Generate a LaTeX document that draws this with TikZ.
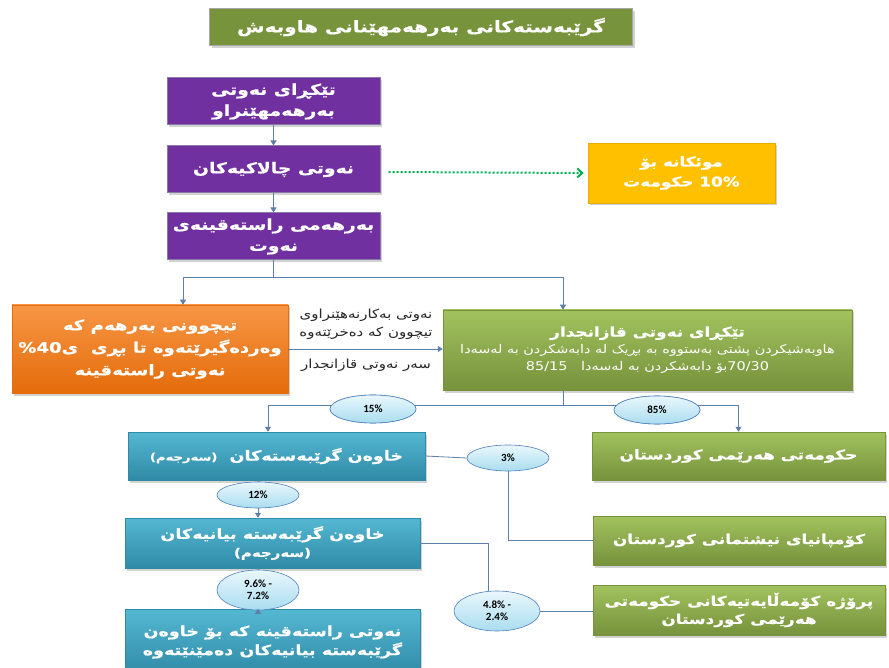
\documentclass[tikz,border=0pt]{standalone}
\usepackage{fontspec}
\usetikzlibrary{shapes.geometric,arrows.meta,shadows,calc}
\TeXXeTstate=1
\newfontfamily\arbB[Script=Arabic,FakeStretch=1.25,FakeBold=0.6]{DejaVu Sans Bold}
\newfontfamily\arbR[Script=Arabic,FakeStretch=1.2]{DejaVu Sans}
\newfontfamily\numf{Carlito}
\newcommand\rtlline[1]{\beginR #1\endR}
\newcommand\ltrrun[1]{\beginL #1\endL}
\definecolor{titleg}{HTML}{77933C}
\definecolor{purp}{HTML}{7030A0}
\definecolor{purpd}{HTML}{8A7AA8}
\definecolor{goldc}{HTML}{FFC000}
\definecolor{orT}{HTML}{F79646}
\definecolor{orB}{HTML}{E46C0A}
\definecolor{grT}{HTML}{A2C25E}
\definecolor{grB}{HTML}{76923C}
\definecolor{blT}{HTML}{55B8D3}
\definecolor{blB}{HTML}{2F8AA6}
\definecolor{elT}{HTML}{EAF7FC}
\definecolor{elB}{HTML}{A9DDF0}
\definecolor{elD}{HTML}{4F81BD}
\definecolor{cn}{HTML}{5F7FA6}
\definecolor{dotg}{HTML}{00B050}
\definecolor{lbl}{HTML}{262626}
\tikzset{
  bx/.style={rectangle, align=center, text=white, inner sep=2pt,
    font=\arbB\fontsize{13.5}{20}\selectfont,
    drop shadow={opacity=0.35, shadow xshift=2pt, shadow yshift=-2.5pt}},
  purplebox/.style={bx, fill=purp, draw=purpd, line width=1pt,
    font=\arbB\fontsize{15}{21}\selectfont},
  goldbox/.style={bx, fill=goldc, draw=goldc!90!black, line width=0.5pt},
  orangebox/.style={bx, top color=orT, bottom color=orB, draw=orB, line width=0.5pt},
  greenbox/.style={bx, top color=grT, bottom color=grB, draw=grB, line width=0.5pt},
  bluebox/.style={bx, top color=blT, bottom color=blB, draw=blB, line width=0.5pt,
    font=\arbB\fontsize{14}{21}\selectfont},
  titlebox/.style={bx, fill=titleg, draw=gray!70, line width=1pt,
    font=\arbB\fontsize{16}{20}\selectfont},
  pct/.style={ellipse, top color=elT, bottom color=elB, draw=elD, line width=0.6pt,
    font=\numf\bfseries\fontsize{11}{12}\selectfont, inner sep=0pt, align=center},
  conn/.style={draw=cn, line width=0.8pt},
  arr/.style={conn, -{Triangle[width=6pt,length=5pt]}},
  dotarr/.style={draw=dotg, line width=2pt, dotted, -{Straight Barb[length=5pt,width=9pt,line width=2pt]}},
  lab/.style={text=lbl, font=\arbR\fontsize{12.5}{18}\selectfont, align=center, inner sep=0pt}
}
\begin{document}
\begin{tikzpicture}[x=1pt,y=-1pt]
\useasboundingbox (0,0) rectangle (889,668);
\clip (0,0) rectangle (889,668);
\fill[white] (0,0) rectangle (889,668);

% title
\node[titlebox, minimum width=423pt, minimum height=37pt] (title) at (421,27)
  {\rtlline{گرێبەستەکانی بەرهەمهێنانی هاوبەش}};

% purple column
\node[purplebox, minimum width=213pt, minimum height=47pt] (p1) at (273.5,101.5)
  {\rtlline{تێکڕای نەوتی}\\\rtlline{بەرهەمهێنراو}};
\node[purplebox, minimum width=213pt, minimum height=47pt] (p2) at (273.5,169.5)
  {\rtlline{نەوتی چالاکیەکان}};
\node[purplebox, minimum width=213pt, minimum height=47pt] (p3) at (273.5,236.5)
  {\rtlline{بەرهەمی راستەقینەی}\\\rtlline{نەوت}};

% gold box
\node[goldbox, minimum width=187pt, minimum height=60pt] (gold) at (681.5,173)
  {\rtlline{موئکانە بۆ}\\\rtlline{\ltrrun{10\%} حکومەت}};

% orange box
\node[orangebox, minimum width=276pt, minimum height=88pt,
      font=\arbB\fontsize{14.5}{22.5}\selectfont] (orange) at (150,349)
  {\rtlline{تیچوونی بەرهەم کە}\\\rtlline{وەردەگیرێتەوە تا بڕی\ \ ی\ltrrun{\%40}}\\\rtlline{نەوتی راستەقینە}};

% main green box
\node[greenbox, minimum width=409pt, minimum height=80pt] (gm) at (647.5,350)
  {{\fontsize{13.5}{20}\selectfont\rtlline{تێکڕای نەوتی قازانجدار}}\\[-3pt]
   {\arbR\fontsize{12}{16}\selectfont\rtlline{هاوبەشیکردن پشتی بەستووە بە بڕیک لە دابەشکردن بە لەسەدا}}\\[-3pt]
   {\arbR\fontsize{12}{16}\selectfont\rtlline{\ltrrun{70/30}بۆ دابەشکردن بە لەسەدا\ \ \ \ltrrun{85/15}}}};

% labels between
\node[lab] (lab1) at (366,324)
  {\rtlline{نەوتی بەکارنەهێنراوی}\\\rtlline{تیچوون کە دەخرێتەوە}};
\node[lab] (lab2) at (366,365) {\rtlline{سەر نەوتی قازانجدار}};

% lower boxes
\node[bluebox, minimum width=297pt, minimum height=48pt] (b1) at (276.5,456)
  {\rtlline{خاوەن گرێبەستەکان\ \ {\fontsize{10.5}{12}\selectfont(سەرجەم)}}};
\node[greenbox, minimum width=293pt, minimum height=48pt] (gk) at (738.5,456)
  {\rtlline{حکومەتی هەرێمی کوردستان}};
\node[bluebox, minimum width=295pt, minimum height=50pt] (b2) at (272.5,543)
  {\rtlline{خاوەن گرێبەستە بیانیەکان}\\[-3pt]{\fontsize{12}{14}\selectfont\rtlline{(سەرجەم)}}};
\node[greenbox, minimum width=292pt, minimum height=49pt] (gn) at (739,540.5)
  {\rtlline{کۆمپانیای نیشتمانی کوردستان}};
\node[greenbox, minimum width=292pt, minimum height=50pt] (gp) at (739,610)
  {\rtlline{پرۆژە کۆمەڵایەتیەکانی حکومەتی}\\[-2pt]\rtlline{هەرێمی کوردستان}};
\node[bluebox, minimum width=295pt, minimum height=66pt] (b3) at (272.5,642)
  {\rtlline{نەوتی راستەقینە کە بۆ خاوەن}\\[-2pt]\rtlline{گرێبەستە بیانیەکان دەمێنێتەوە}};

% ellipses
\node[pct, minimum width=86pt, minimum height=28pt] (e15) at (373,409) {15\%};
\node[pct, minimum width=86pt, minimum height=28pt] (e85) at (657,410) {85\%};
\node[pct, minimum width=82pt, minimum height=26pt] (e3) at (508,458) {3\%};
\node[pct, minimum width=82pt, minimum height=26pt] (e12) at (258,495) {12\%};
\node[pct, minimum width=82pt, minimum height=40pt] (e96) at (258,590) {9.6\% -\\7.2\%};
\node[pct, minimum width=86pt, minimum height=40pt] (e48) at (497,611) {4.8\% -\\2.4\%};

% connectors
\draw[arr] (p1.south) -- (p2.north);
\draw[arr] (p2.south) -- (p3.north);
\draw[conn] (p3.south) -- ++(0,17) coordinate (j1);
\draw[arr] (j1) -| ([xshift=33pt]orange.north);
\draw[arr] (j1) -| ([xshift=-84.5pt]gm.north);
\draw[dotarr] ([xshift=8pt,yshift=-2.5pt]p2.east) -- ([xshift=-4pt]gold.west);
\draw[arr] (orange.east) -- (orange.east -| gm.west);
\draw[conn] ([xshift=-84.5pt]gm.south) -- ++(0,15) coordinate (j2);
\draw[arr] (j2) -| ([xshift=-8.5pt]b1.north);
\draw[arr] (j2) -| (gk.north);
\draw[conn] (b1.east) -- (e3.west);
\draw[conn] (e3.south) |- (gn.west);
\draw[conn] (e12.north |- b1.south) -- (e12.north);
\draw[arr] (e12.south) -- (e12.south |- b2.north);
\draw[conn] (e96.north |- b2.south) -- (e96.north);
\draw[arr] (e96.south) -- (e96.south |- b3.north);
\draw[conn] (b2.east) -| ([xshift=-9pt]e48.north);
\draw[conn] (e48.east) -- (e48.east -| gp.west);

% ellipses that sit on the lines, drawn again on top
\node[pct, minimum width=86pt, minimum height=28pt] at (e15) {15\%};
\node[pct, minimum width=86pt, minimum height=28pt] at (e85) {85\%};
\end{tikzpicture}
\end{document}
